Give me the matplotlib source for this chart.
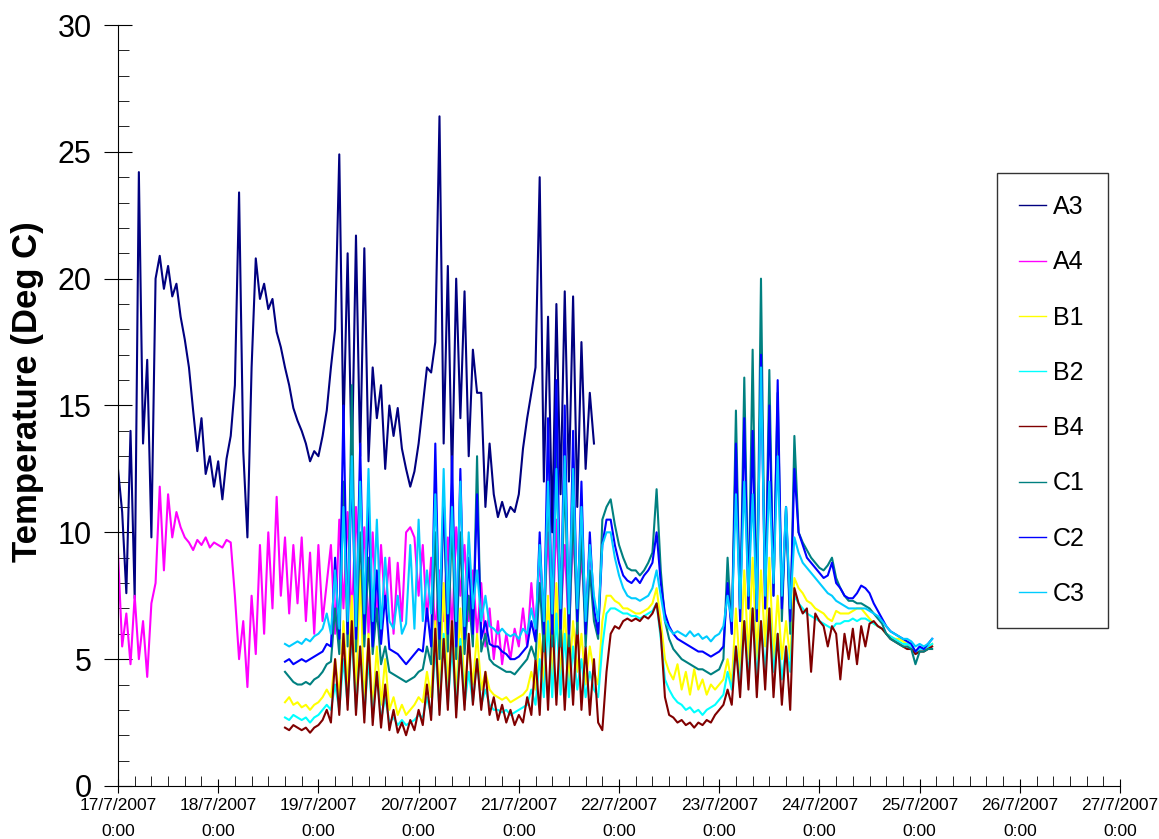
import numpy as np
import matplotlib.pyplot as plt
from matplotlib.ticker import MultipleLocator

# hours since 17/7/2007 0:00, one reading per hour
A3 = [12.5, 10.8, 7.6, 14.0, 7.4, 24.2, 13.5, 16.8, 9.8, 20.0,
      20.9, 19.6, 20.5, 19.3, 19.8, 18.5, 17.6, 16.5, 14.8, 13.2,
      14.5, 12.3, 13.0, 11.8, 12.8, 11.3, 12.9, 13.8, 15.8, 23.4,
      13.2, 9.8, 16.5, 20.8, 19.2, 19.8, 18.8, 19.2, 17.9, 17.3,
      16.5, 15.8, 14.9, 14.4, 14.0, 13.5, 12.8, 13.2, 13.0, 13.8,
      14.8, 16.5, 18.0, 24.9, 14.0, 21.0, 12.5, 21.7, 13.0, 21.2,
      12.8, 16.5, 14.5, 15.8, 12.5, 15.0, 13.8, 14.9, 13.3, 12.5,
      11.8, 12.4, 13.5, 15.0, 16.5, 16.3, 17.5, 26.4, 13.5, 20.5,
      12.0, 20.0, 14.5, 19.5, 13.0, 17.2, 15.5, 15.5, 11.0, 13.5,
      11.5, 10.6, 11.2, 10.6, 11.0, 10.8, 11.5, 13.3, 14.5, 15.5,
      16.5, 24.0, 12.0, 18.5, 10.0, 19.0, 11.5, 19.5, 12.0, 19.3,
      11.0, 17.5, 12.5, 15.5, 13.5]
A4 = [9.2, 5.5, 6.8, 4.8, 7.5, 5.0, 6.5, 4.3, 7.2, 8.0,
      11.8, 8.5, 11.5, 9.8, 10.8, 10.2, 9.8, 9.6, 9.3, 9.7,
      9.5, 9.8, 9.4, 9.6, 9.5, 9.4, 9.7, 9.6, 7.5, 5.0,
      6.5, 3.9, 7.5, 5.2, 9.5, 6.0, 10.0, 7.0, 11.4, 7.5,
      9.8, 6.8, 9.5, 7.2, 9.8, 6.5, 9.2, 6.0, 9.5, 6.5,
      8.0, 9.5, 6.0, 10.5, 7.0, 10.8, 6.5, 11.0, 7.5, 10.2,
      6.0, 10.0, 6.5, 9.5, 7.0, 9.0, 6.0, 8.8, 6.5, 10.0,
      10.2, 9.8, 7.5, 9.5, 6.5, 9.0, 6.0, 8.5, 6.5, 9.8,
      6.0, 10.2, 7.5, 9.5, 6.5, 8.5, 6.0, 8.0, 5.5, 7.0,
      5.0, 6.5, 4.8, 6.0, 5.0, 6.2, 5.5, 7.0, 5.5, 8.0,
      6.0, 9.0, 6.5, 10.0, 6.0, 10.5, 6.5, 9.5, 6.0, 10.0,
      7.0, 9.0, 6.5, 9.5, 7.0]

# B and C loggers start at 18/7 16:00 (hour 40)
B1 = [3.3, 3.5, 3.2, 3.3, 3.1, 3.2, 3.0, 3.2, 3.3, 3.5,
      3.8, 3.5, 5.0, 3.5, 6.5, 3.8, 7.5, 3.5, 8.5, 3.2,
      6.0, 3.0, 5.5, 3.2, 5.0, 3.0, 3.5, 2.8, 3.2, 2.8,
      3.0, 3.2, 3.5, 3.3, 4.5, 3.5, 6.5, 3.5, 8.0, 3.8,
      6.5, 3.5, 7.0, 3.8, 5.5, 4.0, 6.0, 3.8, 4.5, 3.8,
      3.6, 3.5, 3.4, 3.5, 3.3, 3.4, 3.5, 3.6, 3.8, 4.5,
      3.8, 6.0, 4.0, 7.5, 4.0, 8.0, 4.2, 7.0, 4.0, 6.5,
      4.5, 6.0, 4.0, 5.5, 4.5, 4.0, 6.5, 7.5, 7.5, 7.3,
      7.2, 7.0, 7.0, 6.9, 6.8, 6.8, 6.9, 7.0, 7.2, 7.8,
      6.5, 5.0, 4.5, 4.2, 4.8, 3.8, 4.5, 3.6, 4.6, 3.8,
      4.2, 3.6, 4.0, 3.8, 4.0, 4.2, 5.0, 4.0, 7.0, 4.5,
      8.5, 5.0, 9.0, 5.0, 8.5, 5.5, 9.0, 5.0, 7.5, 5.0,
      6.5, 5.0, 8.2, 7.8, 7.6, 7.3, 7.2, 7.0, 6.9, 6.8,
      6.6, 6.5, 6.9, 6.8, 6.8, 6.8, 6.9, 7.0, 7.0, 6.8,
      6.6, 6.4, 6.3, 6.2, 6.0, 5.9, 5.8, 5.8, 5.7, 5.6,
      5.5, 5.3, 5.4, 5.4, 5.5, 5.6]
B2 = [2.7, 2.6, 2.8, 2.7, 2.6, 2.7, 2.5, 2.7, 2.8, 3.0,
      3.2, 3.0, 4.0, 3.0, 5.0, 3.2, 6.0, 3.0, 5.5, 2.8,
      5.0, 2.7, 4.5, 2.6, 3.5, 2.5, 2.7, 2.4, 2.6, 2.4,
      2.5, 2.6, 2.8, 2.7, 3.5, 2.8, 5.5, 3.0, 6.0, 3.2,
      5.5, 3.0, 5.8, 3.2, 4.5, 3.3, 5.0, 3.2, 3.8, 3.2,
      3.0, 3.0, 2.9, 3.0, 2.8, 2.9, 3.0, 3.1, 3.2, 3.8,
      3.2, 5.0, 3.5, 6.5, 3.5, 6.8, 3.6, 6.0, 3.5, 5.5,
      3.8, 5.0, 3.5, 4.5, 3.8, 3.5, 5.5, 6.8, 7.0, 7.0,
      6.9, 6.8, 6.8, 6.7, 6.7, 6.6, 6.7, 6.8, 6.9, 7.2,
      5.8, 4.2, 3.8, 3.5, 3.3, 3.2, 3.0, 3.1, 2.9, 3.0,
      2.8, 3.0, 3.1, 3.2, 3.4, 3.6, 4.5, 3.8, 5.5, 4.0,
      6.5, 4.2, 7.0, 4.2, 6.5, 4.5, 7.0, 4.5, 6.0, 4.2,
      5.5, 4.5, 7.5, 7.2, 7.0, 6.8, 6.7, 6.6, 6.5, 6.4,
      6.3, 6.2, 6.4, 6.4, 6.5, 6.5, 6.6, 6.5, 6.6, 6.6,
      6.5, 6.4, 6.3, 6.2, 6.0, 5.9, 5.8, 5.7, 5.6, 5.6,
      5.5, 5.2, 5.4, 5.4, 5.5, 5.6]
B4 = [2.3, 2.2, 2.4, 2.3, 2.2, 2.3, 2.1, 2.3, 2.4, 2.6,
      3.0, 2.5, 5.0, 2.8, 6.0, 3.0, 6.5, 2.8, 5.5, 2.5,
      5.8, 2.4, 4.5, 2.3, 4.0, 2.2, 3.0, 2.1, 2.5, 2.0,
      2.6, 2.2, 3.0, 2.4, 4.0, 2.6, 6.2, 2.8, 5.8, 3.0,
      6.5, 2.7, 5.5, 3.0, 6.0, 3.2, 5.0, 3.0, 4.5, 2.8,
      3.5, 2.6, 3.2, 2.5, 3.0, 2.4, 2.8, 2.5, 3.5, 2.8,
      5.0, 2.8, 6.5, 3.0, 6.8, 3.2, 6.5, 3.0, 6.0, 3.2,
      6.5, 3.0, 5.5, 2.8, 5.0, 2.5, 2.2, 4.5, 6.0, 6.3,
      6.2, 6.5, 6.6, 6.5, 6.6, 6.5, 6.7, 6.6, 6.8, 7.2,
      6.0, 3.5, 2.8, 2.7, 2.5, 2.6, 2.4, 2.5, 2.3, 2.5,
      2.4, 2.6, 2.5, 2.8, 3.0, 3.2, 3.8, 3.2, 5.5, 3.5,
      6.5, 3.8, 7.0, 3.5, 6.5, 3.8, 7.0, 3.5, 6.0, 3.2,
      5.5, 3.0, 7.8, 7.2, 6.8, 7.0, 4.5, 6.8, 6.5, 6.3,
      5.5, 6.3, 6.0, 4.2, 6.0, 5.0, 6.2, 4.8, 6.3, 5.5,
      6.4, 6.5, 6.3, 6.2, 6.0, 5.8, 5.7, 5.6, 5.5, 5.4,
      5.4, 5.2, 5.3, 5.3, 5.4, 5.5]
C1 = [4.5, 4.3, 4.1, 4.0, 4.0, 4.1, 4.0, 4.2, 4.3, 4.5,
      4.8, 4.9, 7.0, 5.2, 12.0, 5.5, 15.8, 5.3, 10.0, 5.5,
      9.0, 5.2, 7.0, 4.8, 5.5, 4.5, 4.4, 4.3, 4.2, 4.1,
      4.2, 4.3, 4.5, 4.6, 5.5, 4.8, 10.0, 5.0, 11.5, 5.3,
      10.5, 5.0, 10.0, 5.2, 7.5, 5.5, 13.0, 5.3, 6.0, 5.0,
      4.8, 4.7, 4.6, 4.5, 4.5, 4.4, 4.6, 4.8, 5.0, 5.5,
      5.0, 8.0, 5.3, 12.0, 5.5, 13.5, 5.5, 12.5, 5.5, 11.0,
      6.0, 10.0, 5.5, 8.5, 6.5, 5.8, 10.5, 11.0, 11.3, 10.3,
      9.5, 9.0, 8.6, 8.5, 8.5, 8.3, 8.5, 8.8, 9.2, 11.7,
      8.5, 6.5, 5.8, 5.4, 5.2, 5.0, 4.9, 4.8, 4.7, 4.6,
      4.6, 4.5, 4.4, 4.5, 4.6, 5.0, 9.0, 6.0, 14.8, 6.5,
      16.1, 7.0, 17.2, 6.5, 20.0, 7.0, 16.4, 7.5, 15.5, 6.5,
      11.0, 6.0, 13.8, 10.0, 9.6, 9.3, 9.0, 8.8, 8.6, 8.5,
      8.7, 9.0, 8.2, 7.8, 7.5, 7.3, 7.3, 7.2, 7.2, 7.1,
      7.0, 6.8, 6.6, 6.4, 6.0, 5.8, 5.7, 5.6, 5.5, 5.5,
      5.4, 4.8, 5.3, 5.3, 5.4, 5.4]
C2 = [4.9, 5.0, 4.8, 4.9, 5.0, 4.9, 5.0, 5.1, 5.2, 5.3,
      5.6, 5.5, 9.0, 5.8, 15.0, 6.0, 12.5, 5.8, 13.5, 6.0,
      11.0, 5.5, 8.5, 5.6, 7.5, 5.4, 5.3, 5.2, 5.0, 4.8,
      5.0, 5.2, 5.4, 5.3, 7.0, 5.5, 13.5, 5.8, 11.5, 6.0,
      13.0, 5.5, 12.5, 5.8, 9.0, 6.0, 11.5, 5.8, 6.5, 5.6,
      5.5, 5.5, 5.3, 5.2, 5.0, 5.0, 5.1, 5.3, 5.5, 6.5,
      5.7, 10.0, 6.0, 14.5, 6.0, 16.0, 6.2, 15.0, 6.0, 14.0,
      6.5, 12.0, 6.0, 10.0, 7.0, 6.0, 9.5, 10.5, 10.5, 9.5,
      8.8, 8.3, 8.1, 8.0, 8.2, 8.0, 8.3, 8.5, 8.8, 10.0,
      8.0, 6.8, 6.3, 6.0, 5.8, 5.7, 5.6, 5.5, 5.4, 5.3,
      5.3, 5.2, 5.1, 5.2, 5.3, 5.5, 8.0, 6.0, 13.5, 6.5,
      14.5, 7.0, 14.0, 6.5, 17.0, 7.0, 15.0, 7.5, 16.0, 7.0,
      11.0, 6.5, 12.5, 10.0, 9.5, 9.0, 8.8, 8.6, 8.4, 8.2,
      8.3, 8.8, 8.0, 7.8, 7.5, 7.4, 7.4, 7.6, 7.9, 7.8,
      7.6, 7.2, 6.9, 6.6, 6.3, 6.1, 6.0, 5.9, 5.8, 5.7,
      5.6, 5.3, 5.5, 5.4, 5.6, 5.8]
C3 = [5.6, 5.5, 5.6, 5.7, 5.6, 5.8, 5.7, 5.9, 6.0, 6.2,
      6.8, 6.0, 8.5, 6.2, 11.0, 6.5, 13.0, 6.3, 12.0, 6.8,
      12.5, 6.5, 10.5, 6.2, 9.0, 6.5, 6.2, 7.5, 6.0, 6.4,
      9.5, 6.2, 10.5, 6.5, 8.5, 6.8, 11.5, 6.5, 12.5, 6.8,
      11.0, 6.5, 12.0, 6.3, 10.0, 7.0, 8.5, 6.5, 7.5, 6.3,
      6.2, 6.0, 6.2, 6.0, 5.9, 6.0, 5.8, 6.2, 6.0, 7.0,
      6.2, 9.5, 6.5, 12.0, 6.8, 12.5, 7.0, 13.0, 6.8, 12.5,
      7.0, 11.0, 6.5, 9.5, 7.5, 6.5, 9.5, 10.0, 10.0, 9.0,
      8.3, 7.8, 7.5, 7.4, 7.4, 7.3, 7.4, 7.5, 7.8, 8.5,
      7.5, 6.5, 6.2, 6.0, 6.1, 6.0, 5.9, 6.1, 5.9, 6.0,
      5.8, 5.9, 5.7, 5.9, 6.0, 6.3, 7.5, 6.5, 11.5, 7.0,
      12.0, 7.5, 11.5, 7.0, 16.5, 7.5, 12.0, 8.0, 13.0, 7.5,
      11.0, 7.0, 9.8, 9.2, 8.8, 8.6, 8.4, 8.2, 8.0, 7.8,
      7.6, 7.5, 7.3, 7.2, 7.1, 7.0, 7.0, 7.0, 7.0, 7.0,
      6.9, 6.8, 6.7, 6.5, 6.3, 6.1, 6.0, 5.9, 5.8, 5.8,
      5.7, 5.5, 5.6, 5.5, 5.6, 5.8]

series = [('A3', A3, 0, '#000080'), ('A4', A4, 0, '#FF00FF'),
          ('B1', B1, 40, '#FFFF00'), ('B2', B2, 40, '#00FFFF'),
          ('B4', B4, 40, '#800000'), ('C1', C1, 40, '#008080'),
          ('C2', C2, 40, '#0000FF'), ('C3', C3, 40, '#00CCFF')]

day_labels = ['17/7/2007', '18/7/2007', '19/7/2007', '20/7/2007', '21/7/2007', '22/7/2007',
              '23/7/2007', '24/7/2007', '25/7/2007', '26/7/2007', '27/7/2007']

plt.rcParams['font.family'] = ['Liberation Sans', 'DejaVu Sans']

fig = plt.figure(figsize=(11.59, 8.39), dpi=100)
ax = fig.add_axes([0.1018, 0.0632, 0.8646, 0.907])

for name, vals, start, col in series:
    hours = start + np.arange(len(vals))
    ax.plot(hours, vals, color=col, lw=1.5, label=name)

ax.set_xlim(0, 240)
ax.set_ylim(0, 30)
ax.set_xticks(np.arange(0, 241, 24))
ax.set_xticklabels([d + '\n0:00' for d in day_labels], fontsize=12.5, linespacing=1.9)
ax.xaxis.set_minor_locator(MultipleLocator(4))
ax.yaxis.set_major_locator(MultipleLocator(5))
ax.yaxis.set_minor_locator(MultipleLocator(1))
ax.tick_params(axis='y', which='major', direction='inout', length=20, labelsize=22, pad=9)
ax.tick_params(axis='y', which='minor', direction='in', length=8)
ax.tick_params(axis='x', which='major', direction='inout', length=10, pad=4)
ax.tick_params(axis='x', which='minor', direction='in', length=7)
for s in ['top', 'right']:
    ax.spines[s].set_visible(False)

ax.set_ylabel('Temperature (Deg C)', fontsize=25, fontweight='bold')
ax.yaxis.set_label_coords(-0.074, 0.518)

leg = ax.legend(loc='upper left', bbox_to_anchor=(0.877, 0.806), borderaxespad=0,
                fontsize=18, handlelength=1.05, handletextpad=0.3, labelspacing=1.25,
                borderpad=0.9, fancybox=False, edgecolor='#333333', framealpha=1)
leg.get_frame().set_linewidth(1.0)
for line in leg.get_lines():
    line.set_linewidth(1.0)

fig.savefig('out.png', dpi=100)
